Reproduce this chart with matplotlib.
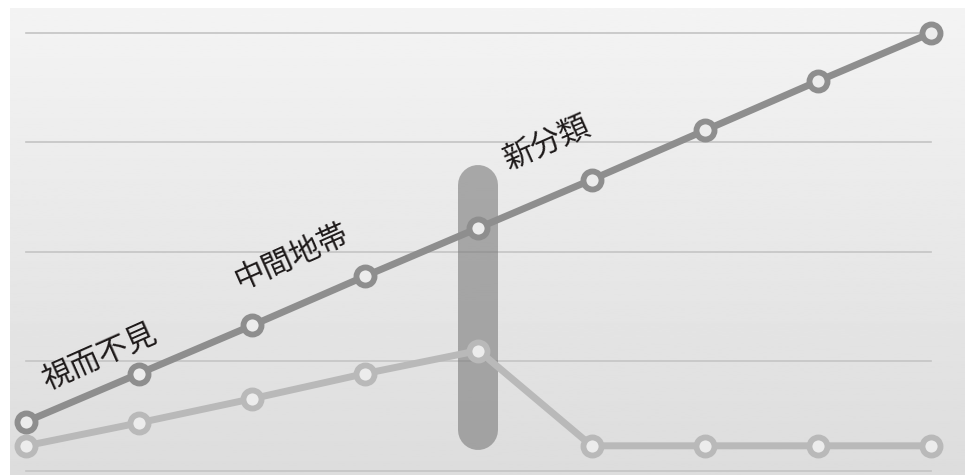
import numpy as np
import matplotlib.pyplot as plt

plt.rcParams['font.family'] = ['Noto Sans CJK JP', 'DejaVu Sans']

# data
steps = [0, 1, 2, 3, 4, 5, 6, 7, 8]
upper = [0.45, 0.89, 1.33, 1.78, 2.22, 2.66, 3.11, 3.56, 4.00]
lower = [0.23, 0.44, 0.66, 0.89, 1.10, 0.23, 0.23, 0.23, 0.23]
grid_levels = [0, 1, 2, 3, 4]
labels = ['視而不見', '中間地帯', '新分類']
label_pos = [(0.65, 1.04), (2.35, 1.95), (4.6, 2.99)]
highlight_x = 4
highlight_span = [0.37, 2.61]

fig = plt.figure(figsize=(9.69, 4.75), dpi=100)
fig.patch.set_facecolor('white')
ax = fig.add_axes([0, 0, 1, 1])
ax.set_xlim(-0.2298, 8.336)
ax.set_ylim(-0.0365, 4.301)
ax.axis('off')

# gray gradient panel
grad = np.linspace(0.955, 0.865, 256).reshape(-1, 1)
ax.imshow(grad, cmap='gray', vmin=0, vmax=1, aspect='auto',
          extent=[-0.14, 8.30, -0.0365, 4.22], zorder=0)

for g in grid_levels:
    ax.plot([0, 8], [g, g], color='#c4c4c4', lw=1.2, zorder=1)

# highlight bar
ax.plot([highlight_x, highlight_x], highlight_span, color='#7a7a7a', alpha=0.6,
        lw=28.8, solid_capstyle='round', zorder=2)

ax.plot(steps, lower, color='#b9b9b9', lw=5, marker='o', ms=13,
        mfc='#ececec', mec='#b9b9b9', mew=4.2, zorder=3)
ax.plot(steps, upper, color='#8e8e8e', lw=5, marker='o', ms=13,
        mfc='#ececec', mec='#8e8e8e', mew=4.2, zorder=4)

for txt, (x, y) in zip(labels, label_pos):
    ax.text(x, y, txt, fontsize=22, rotation=24, color='#1e1a1a',
            fontweight='normal', ha='center', va='center', zorder=5)

fig.savefig('out.png', dpi=100)
